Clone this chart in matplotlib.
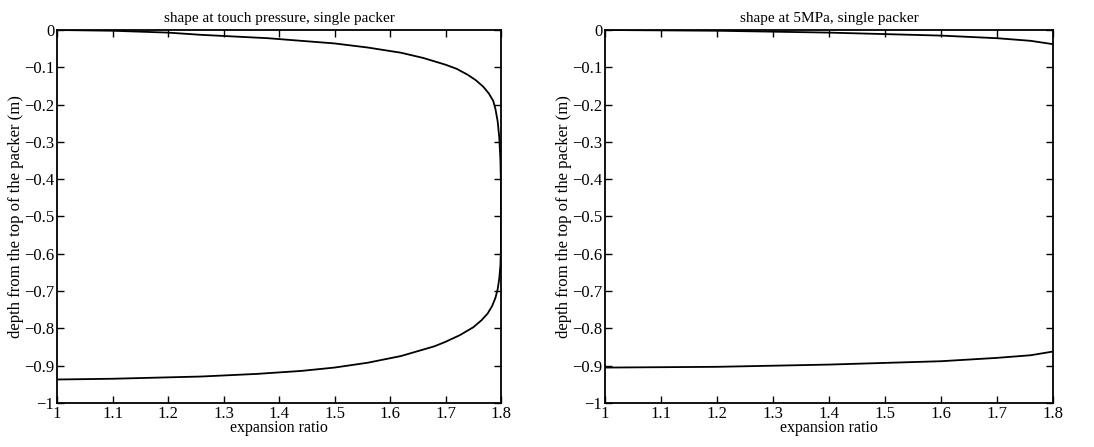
import matplotlib
matplotlib.use("Agg")
import matplotlib.pyplot as plt

# --- values ---
# left panel: shape at touch pressure (upper flank, down the wall, lower flank)
touch_x = [1.00, 1.10, 1.20, 1.26, 1.38, 1.50, 1.56, 1.62, 1.66, 1.70, 1.72, 1.74,
           1.755, 1.768, 1.778, 1.786, 1.790, 1.794, 1.797, 1.799, 1.800, 1.800,
           1.800, 1.799, 1.797, 1.794, 1.790, 1.784, 1.776, 1.765, 1.750, 1.726,
           1.70, 1.68, 1.62, 1.56, 1.50, 1.44, 1.36, 1.26, 1.10, 1.00]
touch_y = [0.000, -0.002, -0.007, -0.013, -0.022, -0.036, -0.047, -0.061, -0.075,
           -0.093, -0.104, -0.120, -0.135, -0.152, -0.170, -0.190, -0.212, -0.245,
           -0.290, -0.350, -0.420, -0.500, -0.580, -0.630, -0.665, -0.695, -0.718,
           -0.740, -0.760, -0.778, -0.797, -0.818, -0.836, -0.848, -0.874, -0.892,
           -0.905, -0.914, -0.922, -0.929, -0.935, -0.937]

# right panel: shape at 5 MPa
mpa_top_x = [1.00, 1.20, 1.40, 1.60, 1.70, 1.76, 1.80]
mpa_top_y = [0.000, -0.002, -0.007, -0.015, -0.022, -0.029, -0.038]
mpa_bot_x = [1.00, 1.00, 1.20, 1.40, 1.60, 1.70, 1.76, 1.80]
mpa_bot_y = [-0.898, -0.905, -0.903, -0.897, -0.888, -0.879, -0.872, -0.862]

xticks = [1, 1.1, 1.2, 1.3, 1.4, 1.5, 1.6, 1.7, 1.8]
xtick_labels = ["1", "1.1", "1.2", "1.3", "1.4", "1.5", "1.6", "1.7", "1.8"]
yticks = [0, -0.1, -0.2, -0.3, -0.4, -0.5, -0.6, -0.7, -0.8, -0.9, -1]
ytick_labels = ["0", "\u22120.1", "\u22120.2", "\u22120.3", "\u22120.4", "\u22120.5",
                "\u22120.6", "\u22120.7", "\u22120.8", "\u22120.9", "\u22121"]

titles = ["shape at touch pressure, single packer", "shape at 5MPa, single packer"]

plt.rcParams["font.family"] = ["Liberation Serif", "DejaVu Serif"]

fig = plt.figure(figsize=(10.94, 4.47), dpi=100)
W, H = 1094.0, 447.0
ax1 = fig.add_axes([57 / W, 1 - 403 / H, 444 / W, 373 / H])
ax2 = fig.add_axes([605 / W, 1 - 403 / H, 448 / W, 373 / H])

ax1.plot(touch_x, touch_y, color="black", lw=1.3)
ax2.plot(mpa_top_x, mpa_top_y, color="black", lw=1.3)
ax2.plot(mpa_bot_x, mpa_bot_y, color="black", lw=1.3)

for ax, title in zip([ax1, ax2], titles):
    ax.set_xlim(1, 1.8)
    ax.set_ylim(-1, 0)
    ax.set_xticks(xticks)
    ax.set_xticklabels(xtick_labels)
    ax.set_yticks(yticks)
    ax.set_yticklabels(ytick_labels)
    ax.tick_params(direction="in", top=True, right=True, length=5, width=1.0,
                   labelsize=12, pad=2)
    for s in ax.spines.values():
        s.set_linewidth(1.3)
    ax.set_title(title, fontsize=11, pad=6)
    ax.set_xlabel("expansion ratio", fontsize=11.5, labelpad=-1)
    ax.set_ylabel("depth from the top of the packer (m)", fontsize=12, labelpad=0)

fig.savefig("out.png", dpi=100)
